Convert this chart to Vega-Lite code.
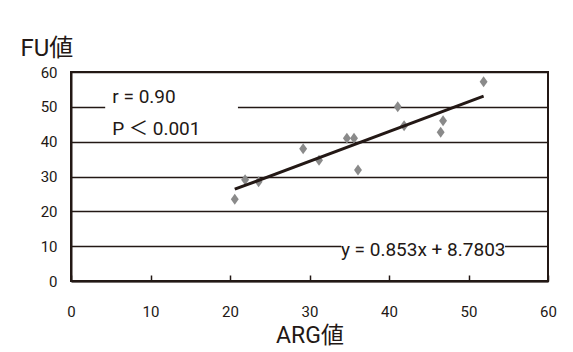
{
  "$schema": "https://vega.github.io/schema/vega-lite/v6.json",
  "width": 477,
  "height": 209,
  "autosize": {"type": "none"},
  "padding": {"left": 71, "top": 72, "right": 25, "bottom": 71},
  "background": "white",
  "config": {
    "font": "Roboto, Noto Sans CJK JP, sans-serif",
    "view": {"stroke": "#231815", "strokeWidth": 2}
  },
  "datasets": {
    "points": [
      {"ARG": 20.6, "FU": 23.5},
      {"ARG": 21.9, "FU": 29.1},
      {"ARG": 23.6, "FU": 28.5},
      {"ARG": 29.2, "FU": 38.0},
      {"ARG": 31.2, "FU": 34.7},
      {"ARG": 34.7, "FU": 41.0},
      {"ARG": 35.6, "FU": 41.0},
      {"ARG": 36.1, "FU": 31.9},
      {"ARG": 41.1, "FU": 50.0},
      {"ARG": 41.9, "FU": 44.6},
      {"ARG": 46.5, "FU": 42.7},
      {"ARG": 46.8, "FU": 46.0},
      {"ARG": 51.9, "FU": 57.2}
    ],
    "fit": [
      {"ARG": 20.6, "FU": 26.35},
      {"ARG": 51.9, "FU": 53.05}
    ],
    "boxes": [
      {"ARG": 4.3, "ARG2": 21.0, "FU": 45, "FU2": 55},
      {"ARG": 34.0, "ARG2": 54.6, "FU": 7, "FU2": 13}
    ],
    "leftLabels": [
      {"ARG": 5.2, "FU": 52.7, "label": "r = 0.90"},
      {"ARG": 5.2, "FU": 43.6, "label": "P ＜ 0.001"}
    ],
    "centerLabels": [
      {"ARG": 44.3, "FU": 9.0, "label": "y = 0.853x + 8.7803"}
    ]
  },
  "encoding": {
    "x": {"field": "ARG", "type": "quantitative", "scale": {"domain": [0, 60], "nice": false},
      "axis": {
        "values": [0, 10, 20, 30, 40, 50, 60],
        "tickCount": 30,
        "labelOverlap": false,
        "labelFlush": false,
        "grid": false,
        "domainColor": "#231815", "domainWidth": 2,
        "tickColor": "#231815", "tickWidth": 1.5, "tickSize": -6,
        "labelFontSize": 15, "labelColor": "#231815", "labelPadding": 29, "labelDx": -3,
        "title": "ARG値", "titleFontSize": 23, "titleFontWeight": "normal", "titleColor": "#231815",
        "titleBaseline": "alphabetic", "titleY": 61
      }},
    "y": {"field": "FU", "type": "quantitative", "scale": {"domain": [0, 60], "nice": false},
      "axis": {
        "values": [0, 10, 20, 30, 40, 50, 60],
        "tickCount": 30,
        "labelOverlap": false,
        "labelFlush": false,
        "grid": true, "gridColor": "#231815", "gridWidth": 1.5, "gridOpacity": 1,
        "ticks": false,
        "domainColor": "#231815", "domainWidth": 2,
        "labelFontSize": 15, "labelColor": "#231815", "labelPadding": 14,
        "title": "FU値", "titleFontSize": 24, "titleFontWeight": "normal", "titleColor": "#231815",
        "titleAngle": 0, "titleAlign": "left", "titleBaseline": "alphabetic",
        "titleX": -51, "titleY": -17
      }}
  },
  "layer": [
    {
      "data": {"name": "boxes"},
      "mark": {"type": "rect", "color": "white"},
      "encoding": {
        "x2": {"field": "ARG2"},
        "y2": {"field": "FU2"}
      }
    },
    {
      "data": {"name": "points"},
      "mark": {"type": "point", "shape": "M0,-1L0.72,0L0,1L-0.72,0Z", "filled": true, "color": "#8a8a8a", "opacity": 1, "size": 121}
    },
    {
      "data": {"name": "fit"},
      "mark": {"type": "line", "color": "#231815", "strokeWidth": 3}
    },
    {
      "data": {"name": "leftLabels"},
      "mark": {"type": "text", "fontSize": 19, "color": "#231815", "baseline": "middle", "align": "left"},
      "encoding": {
        "text": {"field": "label"}
      }
    },
    {
      "data": {"name": "centerLabels"},
      "mark": {"type": "text", "fontSize": 19, "color": "#231815", "baseline": "middle", "align": "center"},
      "encoding": {
        "text": {"field": "label"}
      }
    }
  ]
}
